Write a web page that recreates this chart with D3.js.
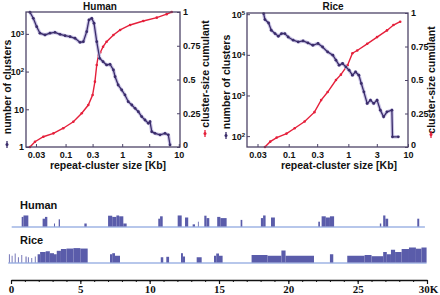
<!DOCTYPE html>
<html>
<head>
<style>
  body { margin: 0; background: #fff; }
  svg text { font-family: "Liberation Sans", Arial, sans-serif; font-weight: bold; fill: #111; }
</style>
</head>
<body>
<svg id="chart" width="440" height="295"></svg>
<script src="https://cdnjs.cloudflare.com/ajax/libs/d3/7.8.5/d3.min.js"></script>
<script>
// ---- data ----
// cluster size (kb) vs number of clusters
const humanSize  = [0.0235, 0.0269, 0.0309, 0.0353, 0.0433, 0.053, 0.065, 0.080, 0.098, 0.120, 0.147, 0.180, 0.206, 0.236, 0.259, 0.290, 0.318, 0.355, 0.40, 0.46, 0.53, 0.61, 0.70, 0.75, 0.85, 0.98, 1.12, 1.28, 1.48, 1.69, 1.93, 2.21, 2.53, 2.90, 3.10, 3.33, 3.80, 4.66, 5.71, 6.53, 7.0];
const humanCount = [3740, 2590, 1550, 1040, 935, 1040, 1100, 975, 896, 843, 764, 598, 621, 1143, 2340, 2590, 1910, 621, 225, 183, 150, 156, 110, 73, 44, 32.5, 24, 15.9, 13, 10.6, 8.6, 6.4, 5.2, 4.25, 4.7, 2.55, 2.3, 2.1, 2.3, 2.1, 1.13];
// cluster size (kb) vs cumulant
const humanCumSize = [0.0235, 0.0288, 0.0405, 0.061, 0.091, 0.137, 0.193, 0.252, 0.30, 0.33, 0.355, 0.38, 0.41, 0.46, 0.53, 0.70, 0.92, 1.38, 2.36, 4.08, 6.1, 7.5];
const humanCum     = [0, 0.039, 0.076, 0.101, 0.139, 0.187, 0.25, 0.311, 0.385, 0.484, 0.607, 0.681, 0.70, 0.743, 0.78, 0.83, 0.867, 0.904, 0.933, 0.958, 0.984, 1.0];

const riceSize  = [0.038, 0.040, 0.046, 0.051, 0.059, 0.067, 0.076, 0.086, 0.098, 0.119, 0.144, 0.174, 0.21, 0.254, 0.31, 0.37, 0.45, 0.55, 0.62, 0.70, 0.80, 0.91, 1.03, 1.17, 1.32, 1.50, 1.65, 1.82, 2.07, 2.35, 2.66, 3.03, 3.44, 3.90, 4.44, 5.37, 5.50, 6.90];
const riceCount = [103500, 73800, 60800, 40300, 33400, 28700, 33400, 33400, 27500, 22900, 20800, 22000, 19600, 17200, 19000, 15600, 11800, 9800, 7380, 5560, 6120, 5050, 4190, 3160, 3800, 3160, 1970, 1230, 637, 767, 637, 767, 436, 298, 396, 436, 96, 96];
const riceCumSize = [0.040, 0.049, 0.063, 0.092, 0.126, 0.185, 0.27, 0.35, 0.45, 0.62, 0.75, 0.97, 1.17, 1.41, 2.07, 3.03, 4.44, 5.7, 7.4];
const riceCum     = [0, 0.04, 0.07, 0.10, 0.14, 0.19, 0.26, 0.35, 0.41, 0.50, 0.54, 0.61, 0.70, 0.72, 0.77, 0.82, 0.87, 0.91, 0.935];

const sizeTicks = [0.03, 0.1, 0.3, 1, 3, 10];
const cumTicks = [0, 0.25, 0.5, 0.75, 1];
const humanCountTicks = [1, 10, 100, 1000];
const riceCountTicks = [100, 1000, 10000, 100000];

// genome tracks: [start (K), end (K), relative height]
const humanSpan = [0.05, 29.85];
const humanBlocks = [
  [0.77, 0.9, 0.8], [0.9, 1.25, 0.92],
  [2.28, 2.45, 0.65], [2.45, 2.62, 0.8],
  [3.1, 3.17, 0.25], [3.44, 3.53, 0.6], [5.29, 5.46, 0.25],
  [7.0, 7.3, 0.9], [7.3, 7.6, 0.8], [7.6, 7.8, 0.92], [7.8, 8.1, 0.85], [8.1, 8.34, 0.25],
  [10.62, 10.75, 0.65], [10.75, 10.94, 0.85],
  [12.02, 12.31, 0.92], [12.55, 12.78, 0.75], [13.1, 13.27, 0.18], [13.48, 13.53, 0.4],
  [13.94, 14.1, 0.9], [14.1, 14.3, 0.7],
  [14.87, 15.1, 0.8], [15.1, 15.55, 0.7],
  [16.56, 16.68, 0.55],
  [18.02, 18.18, 0.7], [18.18, 18.36, 0.92], [18.75, 19.03, 0.75],
  [22.16, 22.28, 0.4], [22.4, 22.7, 0.85], [22.7, 23.0, 0.75], [23.0, 23.3, 0.85],
  [26.6, 26.7, 0.25], [26.84, 27.0, 0.92], [27.0, 27.2, 0.65],
  [29.3, 29.44, 0.65]
];
const riceSpan = [-0.2, 29.97];
const riceBlocks = [
  [-0.15, -0.09, 0.55], [0.05, 0.1, 0.45], [0.27, 0.33, 0.6], [0.5, 0.56, 0.35], [0.75, 0.8, 0.5],
  [1.05, 1.12, 0.4], [1.22, 1.28, 0.35], [1.47, 1.52, 0.3], [1.72, 1.77, 0.4],
  [1.92, 2.1, 0.55], [2.1, 2.5, 0.7], [2.5, 2.8, 0.75], [2.8, 3.1, 0.62], [3.1, 3.3, 0.55],
  [3.3, 3.6, 0.78], [3.6, 4.0, 0.9], [4.0, 4.5, 0.93], [4.5, 5.0, 0.96], [5.0, 5.53, 0.93],
  [7.14, 7.3, 0.55], [7.3, 7.5, 0.62], [7.5, 7.86, 0.45],
  [10.8, 10.98, 0.35], [11.2, 11.4, 0.38],
  [12.26, 12.4, 0.62], [12.4, 12.55, 0.4], [13.39, 13.75, 0.35],
  [14.64, 14.8, 0.45], [14.8, 15.0, 0.6], [15.0, 15.26, 0.45],
  [17.35, 18.5, 0.5], [18.5, 19.5, 0.45], [19.5, 19.8, 0.8], [19.8, 21.85, 0.45],
  [23.0, 23.24, 0.55],
  [24.25, 25.5, 0.45], [25.5, 26.0, 0.5], [26.0, 26.84, 0.42],
  [26.84, 27.1, 0.7], [27.1, 27.4, 0.55], [27.4, 27.7, 0.85], [27.7, 28.17, 0.7],
  [28.17, 28.7, 0.9], [28.7, 29.2, 1.0], [29.2, 29.6, 0.92], [29.6, 29.97, 1.0]
];
const genomeTicks = [0, 5, 10, 15, 20, 25, 30];

// ---- styles ----
const purple = "#3b2d6b";
const glow = "#cbc5e6";
const red = "#e5203b";
const frameColor = "#4d4468";
const blockFill = "#5a5caa";
const baseColor = "#7090d8";

const svg = d3.select("#chart");

const supDigits = { 2: "2", 3: "3", 4: "4", 5: "5" };

function drawPanel(p) {
  const x = d3.scaleLog().domain(p.xDomain).range([p.left, p.right]);
  const yL = d3.scaleLog().domain(p.yDomain).range([p.bottom, p.top]);
  const yR = d3.scaleLinear().domain([0, 1]).range([p.bottom, p.top]);
  const g = svg.append("g");

  // cumulant curve (red)
  const cum = p.cumSize.map((s, i) => [s, p.cum[i]]);
  const cumLine = d3.line().x(d => x(d[0])).y(d => yR(d[1]));
  g.append("path").datum(cum).attr("d", cumLine)
    .attr("fill", "none").attr("stroke", red).attr("stroke-width", 1.4);
  g.selectAll(".rdot").data(cum).join("circle")
    .attr("cx", d => x(d[0])).attr("cy", d => yR(d[1])).attr("r", 1.3).attr("fill", red);

  // count curve (purple with a pale halo)
  const cnt = p.size.map((s, i) => [s, p.count[i]]);
  const cntLine = d3.line().x(d => x(d[0])).y(d => yL(d[1]));
  g.append("path").datum(cnt).attr("d", cntLine)
    .attr("fill", "none").attr("stroke", glow).attr("stroke-width", 3.5).attr("stroke-linejoin", "round");
  g.append("path").datum(cnt).attr("d", cntLine)
    .attr("fill", "none").attr("stroke", purple).attr("stroke-width", 1.3);
  g.selectAll(".pdot").data(cnt).join("circle")
    .attr("cx", d => x(d[0])).attr("cy", d => yL(d[1])).attr("r", 1.4).attr("fill", purple);

  // frame
  g.append("rect")
    .attr("x", p.left).attr("y", p.top)
    .attr("width", p.right - p.left).attr("height", p.bottom - p.top)
    .attr("fill", "none").attr("stroke", frameColor).attr("stroke-width", 1.3);

  const styleAxis = (ax, size) => {
    ax.select(".domain").remove();
    ax.selectAll(".tick line").attr("stroke", frameColor);
    ax.selectAll(".tick text").attr("font-size", size);
  };

  // bottom axis
  g.append("g").attr("transform", `translate(0,${p.bottom})`)
    .call(d3.axisBottom(x).tickValues(sizeTicks).tickFormat(d => d).tickSizeInner(-3).tickSizeOuter(0).tickPadding(5))
    .call(ax => styleAxis(ax, 9));

  // left axis (log, powers of ten)
  g.append("g").attr("transform", `translate(${p.left},0)`)
    .call(d3.axisLeft(yL).tickValues(p.countTicks).tickFormat(() => "").tickSizeInner(-3).tickSizeOuter(0).tickPadding(2))
    .call(ax => styleAxis(ax, 9))
    .call(ax => ax.selectAll(".tick text").each(function(d) {
      const t = d3.select(this);
      const e = Math.round(Math.log10(d));
      if (e === 0) { t.text("1"); return; }
      t.append("tspan").text("10");
      if (e > 1) t.append("tspan").attr("dy", "-0.45em").attr("font-size", 6).text(supDigits[e]);
    }));

  // right axis
  g.append("g").attr("transform", `translate(${p.right},0)`)
    .call(d3.axisRight(yR).tickValues(cumTicks).tickFormat(d => d).tickSizeInner(-3).tickSizeOuter(0).tickPadding(3))
    .call(ax => styleAxis(ax, 9))
    .call(ax => ax.selectAll(".tick text").filter(d => d === 0).attr("dy", "0.1em"));

  // titles
  g.append("text").attr("x", p.titleX).attr("y", 9.5).attr("text-anchor", "middle")
    .attr("font-size", 10).text(p.title);
  g.append("text").attr("x", p.xLabelX).attr("y", 169).attr("text-anchor", "middle")
    .attr("font-size", 10.5).text("repeat-cluster size [Kb]");

  // y labels with legend markers
  g.append("text").attr("transform", `translate(${p.yLabelL[0] + 4},${p.yLabelL[1]}) rotate(-90)`)
    .attr("text-anchor", "middle").attr("font-size", 10.5).text("number of clusters");
  g.append("line").attr("x1", p.yLabelL[0]).attr("x2", p.yLabelL[0])
    .attr("y1", p.markL).attr("y2", p.markL + 7).attr("stroke", purple).attr("stroke-width", 1.3);
  g.append("circle").attr("cx", p.yLabelL[0]).attr("cy", p.markL + 3.5).attr("r", 1.5).attr("fill", purple);

  g.append("text").attr("transform", `translate(${p.yLabelR[0] + 4},${p.yLabelR[1]}) rotate(-90)`)
    .attr("text-anchor", "middle").attr("font-size", 10.5).text("cluster-size cumulant");
  g.append("line").attr("x1", p.yLabelR[0]).attr("x2", p.yLabelR[0])
    .attr("y1", p.markR).attr("y2", p.markR + 7).attr("stroke", red).attr("stroke-width", 1.3);
  g.append("circle").attr("cx", p.yLabelR[0]).attr("cy", p.markR + 3.5).attr("r", 1.5).attr("fill", red);
}

drawPanel({
  title: "Human", titleX: 100, xLabelX: 108,
  left: 26, right: 180, top: 12, bottom: 147,
  xDomain: [0.02, 10.5], yDomain: [1, 3800],
  size: humanSize, count: humanCount, cumSize: humanCumSize, cum: humanCum,
  countTicks: humanCountTicks,
  yLabelL: [7, 87], markL: 141, yLabelR: [205, 74], markR: 130
});

drawPanel({
  title: "Rice", titleX: 333, xLabelX: 339,
  left: 247, right: 408, top: 13, bottom: 147,
  xDomain: [0.02, 10], yDomain: [54, 107000],
  size: riceSize, count: riceCount, cumSize: riceCumSize, cum: riceCum,
  countTicks: riceCountTicks,
  yLabelL: [226, 82], markL: 132, yLabelR: [431, 80], markR: 131
});

// ---- genome tracks ----
const xG = d3.scaleLinear().domain([0, 30]).range([11, 427]);

function drawTrack(label, labelY, base, maxH, span, blocks) {
  const y = d3.scaleLinear().domain([0, 1]).range([base, base - maxH]);
  svg.append("text").attr("x", 20).attr("y", labelY).attr("font-size", 11).text(label);
  svg.append("line").attr("x1", xG(span[0])).attr("x2", xG(span[1]))
    .attr("y1", base + 0.5).attr("y2", base + 0.5).attr("stroke", baseColor).attr("stroke-width", 1.2);
  svg.append("g").selectAll("rect").data(blocks).join("rect")
    .attr("x", d => xG(d[0])).attr("width", d => Math.max(0.8, xG(d[1]) - xG(d[0])))
    .attr("y", d => y(d[2])).attr("height", d => base - y(d[2]))
    .attr("fill", blockFill);
}

drawTrack("Human", 209, 226.5, 12, humanSpan, humanBlocks);
drawTrack("Rice", 244, 262.5, 15, riceSpan, riceBlocks);

// genome axis
svg.append("g").attr("transform", "translate(0,280)")
  .call(d3.axisBottom(xG).ticks(30).tickFormat("").tickSize(2))
  .call(ax => ax.select(".domain").remove())
  .call(ax => ax.selectAll(".tick line").attr("stroke", "#111"));
svg.append("g").attr("transform", "translate(0,280)")
  .call(d3.axisBottom(xG).tickValues(genomeTicks).tickFormat(d => d === 30 ? "30K" : d).tickSizeInner(4).tickSizeOuter(0).tickPadding(1))
  .call(ax => ax.select(".domain").attr("stroke", "#111").attr("stroke-width", 1.3))
  .call(ax => ax.selectAll(".tick line").attr("stroke", "#111").attr("stroke-width", 1.2))
  .call(ax => ax.selectAll(".tick text")
    .attr("font-size", 11).attr("font-family", "'Liberation Serif', 'Times New Roman', serif")
    .style("font-family", "'Liberation Serif', 'Times New Roman', serif")
    .attr("dx", d => d === 30 ? 1 : 0));
</script>
</body>
</html>
